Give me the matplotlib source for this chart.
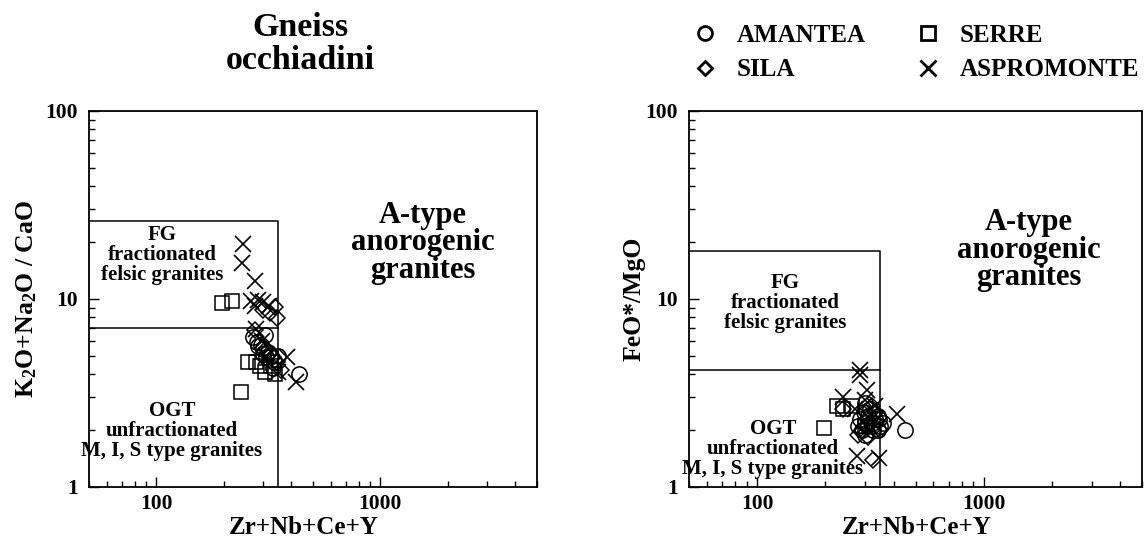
import numpy as np
import matplotlib
matplotlib.use('Agg')
import matplotlib.pyplot as plt
from matplotlib.lines import Line2D
from matplotlib.ticker import LogLocator, NullFormatter

plt.rcParams['font.family'] = ['Liberation Serif', 'DejaVu Serif']
plt.rcParams['font.weight'] = 'bold'
plt.rcParams['axes.labelweight'] = 'bold'
plt.rcParams['mathtext.fontset'] = 'custom'
plt.rcParams['mathtext.rm'] = 'Liberation Serif:bold'
plt.rcParams['mathtext.bf'] = 'Liberation Serif:bold'
plt.rcParams['mathtext.default'] = 'rm'

# ---- data: left panel (K2O+Na2O/CaO) ----
am_x1 = [270, 305, 292, 300, 315, 325, 285, 310, 335, 350, 330, 435, 298, 280]
am_y1 = [6.3, 6.4, 5.7, 5.4, 5.2, 5.0, 5.6, 4.9, 4.6, 5.0, 4.3, 4.0, 5.1, 5.9]
si_x1 = [340, 320, 345, 300, 275, 345, 360, 310, 330]
si_y1 = [9.1, 8.4, 7.9, 8.7, 6.8, 4.6, 4.2, 5.4, 4.9]
se_x1 = [196, 218, 256, 278, 305, 340, 239, 290, 325]
se_y1 = [9.5, 9.8, 4.6, 4.6, 4.1, 4.0, 3.2, 4.4, 4.4]
as_x1 = [244, 240, 275, 265, 283, 300, 318, 275, 278, 383, 418, 350, 310, 295]
as_y1 = [19.5, 15.5, 12.5, 9.8, 9.9, 9.6, 9.2, 9.2, 6.9, 4.9, 3.6, 4.1, 5.0, 6.0]

# ---- data: right panel (FeO*/MgO) ----
am_x2 = [449, 290, 300, 320, 340, 310, 330, 280, 300, 350, 315, 300, 340, 360, 285,
         295, 325, 345, 305]
am_y2 = [2.0, 2.0, 2.2, 2.1, 2.0, 2.4, 2.3, 2.1, 1.9, 2.1, 2.6, 2.8, 2.4, 2.2, 2.3,
         2.5, 2.0, 2.3, 2.15]
si_x2 = [325, 308, 240, 300, 320, 290, 335, 310, 350, 280, 305, 330]
si_y2 = [1.40, 1.85, 2.6, 2.5, 2.7, 2.0, 2.2, 2.1, 2.0, 1.9, 2.3, 2.5]
se_x2 = [225, 262, 197, 240, 300]
se_y2 = [2.7, 2.7, 2.05, 2.6, 2.1]
as_x2 = [284, 284, 305, 240, 414, 277, 345, 300, 330, 270]
as_y2 = [4.2, 3.95, 3.3, 3.0, 2.45, 1.46, 1.43, 2.9, 2.7, 2.6]

# field boundaries (Whalen et al.)
x_lim = [50, 5000]
y_lim = [1, 100]
fg_xmax = 350
fg_top = [26, 18]
ogt_top = [7.0, 4.2]

groups = ['AMANTEA', 'SILA', 'SERRE', 'ASPROMONTE']
markers = {'AMANTEA': ('o', 11), 'SILA': ('D', 8), 'SERRE': ('s', 10.5), 'ASPROMONTE': ('x', 11)}

panels = [
    {'data': [(am_x1, am_y1), (si_x1, si_y1), (se_x1, se_y1), (as_x1, as_y1)],
     'ylabel': r'K$_2$O+Na$_2$O / CaO', 'pos': [89/1144, 56/543, 448/1144, 376/543],
     'fg': (0.163, 0.617), 'ogt': (0.185, 0.15), 'atype': (0.746, 0.649),
     'xl': 0.48, 'yl': -0.112},
    {'data': [(am_x2, am_y2), (si_x2, si_y2), (se_x2, se_y2), (as_x2, as_y2)],
     'ylabel': 'FeO*/MgO', 'pos': [689/1144, 56/543, 453/1144, 376/543],
     'fg': (0.212, 0.49), 'ogt': (0.185, 0.102), 'atype': (0.75, 0.63),
     'xl': 0.503, 'yl': -0.095},
]

fig = plt.figure(figsize=(11.44, 5.43), dpi=100)

for i, p in enumerate(panels):
    ax = fig.add_axes(p['pos'])
    ax.set_xscale('log')
    ax.set_yscale('log')
    ax.set_xlim(x_lim)
    ax.set_ylim(y_lim)

    for g, (xs, ys) in zip(groups, p['data']):
        m, ms = markers[g]
        if m == 'x':
            ax.plot(xs, ys, ls='none', marker=m, ms=ms, mew=1.2, color='black')
        else:
            ax.plot(xs, ys, ls='none', marker=m, ms=ms, mew=1.1,
                    mfc='none', mec='black')

    # field boundaries
    ax.plot([x_lim[0], fg_xmax, fg_xmax], [fg_top[i], fg_top[i], y_lim[0]],
            color='black', lw=1.1)
    ax.plot([x_lim[0], fg_xmax], [ogt_top[i], ogt_top[i]], color='black', lw=1.1)

    ax.text(*p['fg'], 'FG\nfractionated\nfelsic granites', transform=ax.transAxes,
            ha='center', va='center', fontsize=15, linespacing=1.0)
    ax.text(*p['ogt'], 'OGT\nunfractionated\nM, I, S type granites', transform=ax.transAxes,
            ha='center', va='center', fontsize=15, linespacing=1.0)
    ax.text(*p['atype'], 'A-type\nanorogenic\ngranites', transform=ax.transAxes,
            ha='center', va='center', fontsize=22, linespacing=0.93)

    ax.set_xticks([100, 1000], ['100', '1000'])
    ax.set_yticks([1, 10, 100], ['1', '10', '100'])
    ax.xaxis.set_minor_locator(LogLocator(base=10, subs=np.arange(2, 10)))
    ax.yaxis.set_minor_locator(LogLocator(base=10, subs=np.arange(2, 10)))
    ax.xaxis.set_minor_formatter(NullFormatter())
    ax.yaxis.set_minor_formatter(NullFormatter())
    ax.tick_params(which='major', direction='in', length=7, width=1.0, labelsize=15.5)
    ax.tick_params(axis='x', which='major', pad=5)
    ax.tick_params(axis='y', which='major', pad=8)
    ax.tick_params(which='minor', direction='in', length=4, width=1.0)
    for s in ax.spines.values():
        s.set_linewidth(1.3)

    ax.set_xlabel('Zr+Nb+Ce+Y', fontsize=18, labelpad=2)
    ax.xaxis.set_label_coords(p['xl'], -0.078)
    ax.set_ylabel(p['ylabel'], fontsize=18.5)
    ax.yaxis.set_label_coords(p['yl'], 0.5)

fig.text(300/1144, 1 - 44/543, 'Gneiss\nocchiadini', ha='center', va='center',
         fontsize=24.5, linespacing=1.05)

handles = []
for g in groups:
    m, ms = markers[g]
    if m == 'x':
        handles.append(Line2D([], [], ls='none', marker=m, ms=12, mew=2.0, color='black'))
    else:
        handles.append(Line2D([], [], ls='none', marker=m, ms=10 if m != 'D' else 7.5,
                              mew=2.0, mfc='none', mec='black'))
fig.legend(handles, groups, loc='upper left', bbox_to_anchor=(692/1144, 1 - 24/543),
           ncol=2, frameon=False, fontsize=18, handlelength=1.0, handletextpad=0.78,
           columnspacing=2.0, labelspacing=0.45, borderpad=0, borderaxespad=0)

fig.savefig('out.png', dpi=100)
